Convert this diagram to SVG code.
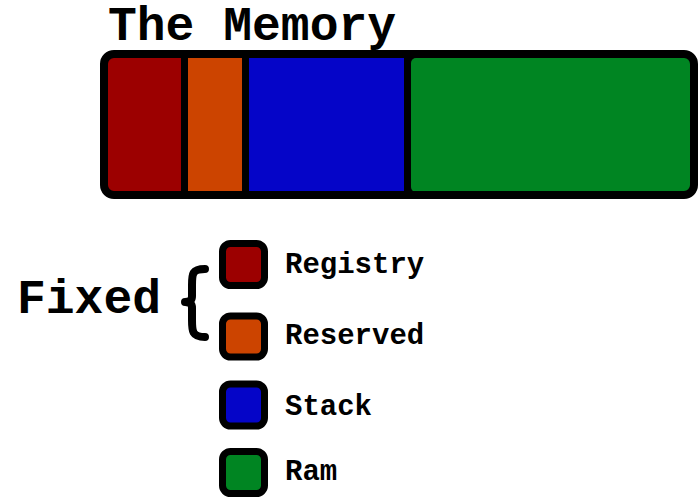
<svg xmlns="http://www.w3.org/2000/svg" width="700" height="500" viewBox="0 0 700 500">
<style>
.t{font-family:"Liberation Mono","Courier New",monospace;font-weight:bold;fill:#000}
.big{font-size:48px}
.lbl{font-size:29px}
.box{stroke:#000;stroke-width:7}
.red{fill:#9c0000}.org{fill:#cc4400}.blu{fill:#0505c8}.grn{fill:#008522}
</style>
<rect width="700" height="500" fill="#fff"/>
<text class="t big" x="108" y="40">The Memory</text>
<g id="memory">
<rect x="104" y="54" width="590" height="141" rx="10" fill="#000"/>
<rect class="red" x="108" y="58" width="73" height="134"/>
<rect class="org" x="188" y="58" width="54" height="134"/>
<rect class="blu" x="249" y="58" width="155" height="134"/>
<rect class="grn" x="411" y="58" width="281" height="134" rx="5"/>
<rect x="104" y="54" width="590" height="141" rx="10" fill="none" stroke="#000" stroke-width="8"/>
</g>
<g id="fixed">
<text class="t big" x="17" y="313">Fixed</text>
<path d="M205 269 C192 269 192 274 192 285 L192 296 C192 300 190 302 185 302 C190 302 192 304 192 308 L192 320 C192 331 192 337 205 337" fill="none" stroke="#000" stroke-width="8" stroke-linecap="round" stroke-linejoin="round"/>
</g>
<g id="registry">
<rect class="box red" x="222.5" y="243.5" width="42" height="42" rx="8"/>
<text class="t lbl" x="285" y="273">Registry</text>
</g>
<g id="reserved">
<rect class="box org" x="222.5" y="316" width="42" height="41" rx="8"/>
<text class="t lbl" x="285" y="344">Reserved</text>
</g>
<g id="stack">
<rect class="box blu" x="222.5" y="384" width="42" height="42" rx="8"/>
<text class="t lbl" x="285" y="415">Stack</text>
</g>
<g id="ram">
<rect class="box grn" x="222.5" y="451.5" width="42" height="42" rx="8"/>
<text class="t lbl" x="285" y="480">Ram</text>
</g>
</svg>
